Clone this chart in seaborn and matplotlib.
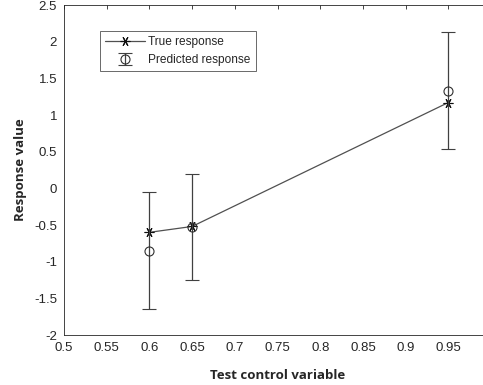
import numpy as np
import pandas as pd
import matplotlib
matplotlib.use("Agg")
import matplotlib.pyplot as plt
import seaborn as sns

x_vals = [0.6, 0.65, 0.95]
true_resp = [-0.60, -0.52, 1.17]
pred_resp = [-0.85, -0.53, 1.33]
pred_err = [0.80, 0.72, 0.80]

x_ticks = [0.5, 0.55, 0.6, 0.65, 0.7, 0.75, 0.8, 0.85, 0.9, 0.95]
x_ticklabels = ["0.5", "0.55", "0.6", "0.65", "0.7", "0.75", "0.8", "0.85", "0.9", "0.95"]
y_ticks = [-2, -1.5, -1, -0.5, 0, 0.5, 1, 1.5, 2, 2.5]
y_ticklabels = ["-2", "-1.5", "-1", "-0.5", "0", "0.5", "1", "1.5", "2", "2.5"]

sns.set_style("white")
plt.rcParams['font.family'] = ['Liberation Sans', 'DejaVu Sans']

fig = plt.figure(figsize=(4.83, 3.85), dpi=100)
ax = fig.add_axes([64 / 483, 50 / 385, 427 / 483, 330 / 385])

df = pd.DataFrame({"x": x_vals, "y": true_resp})
sns.lineplot(data=df, x="x", y="y", ax=ax, color="#505050", linewidth=0.9,
             marker=(6, 2, 90), markersize=7, markeredgecolor="#101010",
             markeredgewidth=0.8, label="True response")
eb = ax.errorbar(x_vals, pred_resp, yerr=pred_err, fmt="o", color="#303030",
                 ecolor="#404040", elinewidth=0.9, capsize=5, capthick=0.9,
                 markersize=6.5, markerfacecolor="none", markeredgewidth=0.8,
                 label="Predicted response")

ax.set_xlim(0.5, 1.0)
ax.set_ylim(-2, 2.5)
ax.set_xticks(x_ticks)
ax.set_xticklabels(x_ticklabels)
ax.set_yticks(y_ticks)
ax.set_yticklabels(y_ticklabels)
ax.tick_params(axis="both", direction="in", length=3, width=0.6, top=True, right=True,
               labelsize=9.5, colors="#262626", labelcolor="#262626")
ax.tick_params(axis="x", pad=5)
ax.tick_params(axis="y", pad=5)
for s in ax.spines.values():
    s.set_visible(True)
    s.set_color("#262626")
    s.set_linewidth(0.6)

ax.set_xlabel("Test control variable", fontsize=9.5, fontweight="bold",
              family=["Open Sans", "DejaVu Sans"], labelpad=11)
ax.set_ylabel("Response value", fontsize=9.5, fontweight="bold",
              family=["Open Sans", "DejaVu Sans"], labelpad=5)

leg = ax.legend(loc="upper left", bbox_to_anchor=(100 / 483, 1 - 31 / 385),
                bbox_transform=fig.transFigure, fontsize=8.6, frameon=True,
                fancybox=False, edgecolor="#262626", borderpad=0.4,
                handlelength=3.4, labelspacing=0.55, handletextpad=0.25,
                borderaxespad=0)
leg.get_frame().set_linewidth(0.6)

fig.savefig("out.png", dpi=100)
